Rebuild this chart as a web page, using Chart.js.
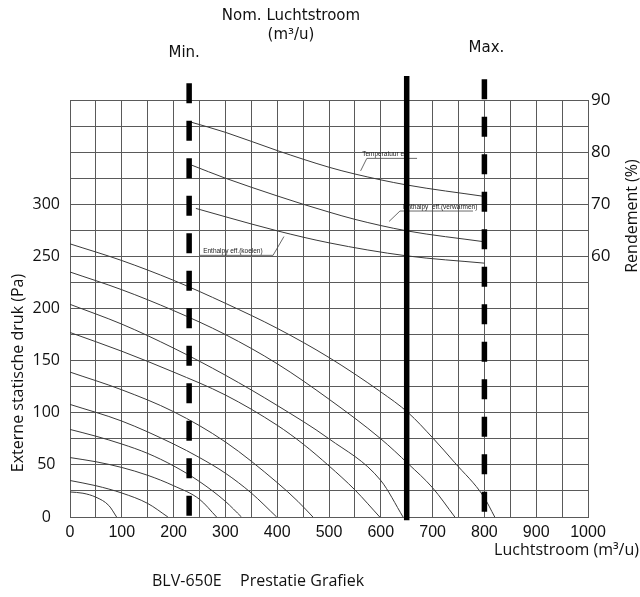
<!DOCTYPE html>
<html>
<head>
<meta charset="utf-8">
<script src="https://cdn.jsdelivr.net/npm/chart.js@4/dist/chart.umd.min.js"></script>
<style>
  html, body { margin: 0; padding: 0; background: #fff; }
  canvas { display: block; }
</style>
</head>
<body>
<canvas id="grafiek" width="640" height="597"></canvas>
<script>
// ventilatorcurves: [luchtstroom m3/u, externe statische druk Pa]
const stand1 = [[0,24],[25,22.8],[50,19],[75,11],[90,0]];
const stand2 = [[0,35],[50,30],[100,23],[150,13],[189,0]];
const stand3 = [[0,57],[50,53],[100,47.5],[150,40],[200,30],[250,17],[283,0]];
const stand4 = [[0,84],[50,77.5],[100,70],[150,61],[200,49],[250,34],[300,15],[331,0]];
const stand5 = [[0,108],[100,92],[200,70],[250,57],[300,42],[350,23],[399,0]];
const stand6 = [[0,139],[100,122],[200,101],[300,72],[400,33],[440,15],[469,0]];
const stand7 = [[0,177],[100,159],[200,139],[300,117],[400,88],[450,70],[500,49],[550,26],[598,0]];
const stand8 = [[0,204],[100,185],[200,162],[300,136],[400,107],[500,75],[600,35],[643,0]];
const stand9 = [[0,235],[100,218],[200,198],[300,175],[400,147],[500,113],[600,75],[653,51],[700,28],[743,0]];
const stand10 = [[0,262],[100,246],[200,227],[300,205],[400,181],[500,153],[600,120],[653,100],[700,76],[743,52],[798,20],[820,0]];
const drukCurves = [stand1, stand2, stand3, stand4, stand5, stand6, stand7, stand8, stand9, stand10];

// rendement: [luchtstroom, %]
const tempRend = [[232,85.8],[300,83.8],[400,80.3],[500,77.1],[550,75.8],[650,73.7],[800,71.5]];
const verwarmenRend = [[235,77.5],[300,75],[400,71.6],[450,70],[500,68.5],[550,67.1],[650,64.9],[800,62.8]];
const koelenRend = [[243,69.2],[300,67.6],[400,64.9],[500,62.6],[650,60.1],[800,58.7]];

// min / nominaal / max luchtstroom
const refFlows = [230, 650, 800];
const refTop = [416, 423, 420];
const refBottom = [0, -3, 0];
const refDash = [[20, 17.5], [], [20, 17.5]];

const xLabels = [0,100,200,300,400,500,600,700,800,900,1000];
const yLinksLabels = [0,50,100,150,200,250,300];
const yRechtsLabels = [60,70,80,90];

// kleine labels bij de rendementscurves
const curveLabels = [
  { tekst: 'Temperatuur e', x: 564, lijn: [[561,76.4],[573,78.8],[670,78.8]] },
  { tekst: 'Enthalpy  eff.(verwarmen)', x: 643, lijn: [[616,66.7],[637,68.7],[778,68.7]] },
  { tekst: 'Enthalpy eff.(koelen)', x: 257, lijn: [[413,63.8],[392,60.2],[251,60.2]] }
];

const toPts = arr => arr.map(p => ({ x: p[0], y: p[1] }));

let datasets = [];

refFlows.forEach((f, i) => {
  datasets.push({
    data: [{ x: f, y: refTop[i] }, { x: f, y: refBottom[i] }],
    yAxisID: 'y',
    borderColor: '#000',
    borderWidth: 5.5,
    borderDash: refDash[i],
    borderCapStyle: 'butt',
    pointRadius: 0,
    tension: 0,
    clip: false
  });
});

[tempRend, verwarmenRend, koelenRend].forEach(r => {
  datasets.push({
    data: toPts(r),
    yAxisID: 'y1',
    borderColor: '#3a3a3a',
    borderWidth: 1,
    pointRadius: 0,
    cubicInterpolationMode: 'monotone'
  });
});

drukCurves.forEach(c => {
  datasets.push({
    data: toPts(c),
    yAxisID: 'y',
    borderColor: '#3a3a3a',
    borderWidth: 1,
    pointRadius: 0,
    cubicInterpolationMode: 'monotone'
  });
});

const tekstPlugin = {
  id: 'tekst',
  beforeDatasetsDraw(chart) {
    const { ctx, scales: { x, y1 } } = chart;
    ctx.save();
    ctx.strokeStyle = '#444';
    ctx.lineWidth = 0.8;
    ctx.fillStyle = '#222';
    ctx.font = '6.5px "Liberation Sans"';
    ctx.textBaseline = 'bottom';
    curveLabels.forEach(l => {
      ctx.beginPath();
      l.lijn.forEach((p, i) => {
        const px = x.getPixelForValue(p[0]);
        const py = y1.getPixelForValue(p[1]);
        if (i === 0) ctx.moveTo(px, py); else ctx.lineTo(px, py);
      });
      ctx.stroke();
      const last = l.lijn[l.lijn.length - 1];
      ctx.fillText(l.tekst, x.getPixelForValue(l.x), y1.getPixelForValue(last[1]) - 1);
    });
    ctx.restore();
  },
  afterDraw(chart) {
    const { ctx, scales: { x } } = chart;
    ctx.save();
    ctx.fillStyle = '#111';
    ctx.textAlign = 'center';
    ctx.textBaseline = 'middle';
    ctx.font = '15px "DejaVu Sans"';
    ctx.fillText('Nom. Luchtstroom', 291, 16);
    ctx.fillText('(m³/u)', 291, 35);
    ctx.fillText('Min.', x.getPixelForValue(refFlows[0]) - 5, 53);
    ctx.fillText('Max.', x.getPixelForValue(refFlows[2]) + 2, 48);

    ctx.font = '16px "Open Sans"';
    ctx.save();
    ctx.translate(18, 373);
    ctx.rotate(-Math.PI / 2);
    ctx.fillText('Externe statische druk (Pa)', 0, 0);
    ctx.restore();
    ctx.save();
    ctx.translate(632, 216);
    ctx.rotate(-Math.PI / 2);
    ctx.fillText('Rendement (%)', 0, 0);
    ctx.restore();

    ctx.textAlign = 'right';
    ctx.fillText('Luchtstroom (m³/u)', 639, 550);

    ctx.textAlign = 'left';
    ctx.fillText('BLV-650E', 152, 581);
    ctx.fillText('Prestatie Grafiek', 240, 581);
    ctx.restore();
  }
};

const gridKleur = '#5a5a5a';

new Chart(document.getElementById('grafiek'), {
  type: 'line',
  data: { datasets },
  options: {
    responsive: false,
    animation: false,
    layout: { padding: { top: 100, left: 0, right: 0, bottom: 0 } },
    plugins: { legend: { display: false }, tooltip: { enabled: false } },
    scales: {
      x: {
        type: 'linear',
        min: 0, max: 1000,
        grid: { color: gridKleur, lineWidth: 1, drawTicks: false },
        border: { color: gridKleur },
        ticks: {
          stepSize: 50,
          autoSkip: false,
          maxRotation: 0,
          padding: 6,
          color: '#111',
          font: { family: 'Liberation Sans', size: 16 },
          callback: v => xLabels.includes(v) ? v : ''
        },
        afterFit: s => { s.height = 80; }
      },
      y: {
        position: 'left',
        min: 0, max: 400,
        grid: { color: gridKleur, lineWidth: 1, drawTicks: false },
        border: { color: gridKleur },
        ticks: {
          stepSize: 25,
          autoSkip: false,
          padding: 10,
          crossAlign: 'center',
          color: '#111',
          font: { family: 'Open Sans', size: 16 },
          callback: v => yLinksLabels.includes(v) ? v : ''
        },
        afterFit: s => { s.width = 70; }
      },
      y1: {
        position: 'right',
        min: 10, max: 90,
        grid: { drawOnChartArea: false, drawTicks: false },
        border: { color: gridKleur },
        ticks: {
          stepSize: 5,
          autoSkip: false,
          padding: 3,
          color: '#111',
          font: { family: 'Open Sans', size: 17 },
          callback: v => yRechtsLabels.includes(v) ? v : ''
        },
        afterFit: s => { s.width = 52; }
      }
    }
  },
  plugins: [tekstPlugin]
});
</script>
</body>
</html>
